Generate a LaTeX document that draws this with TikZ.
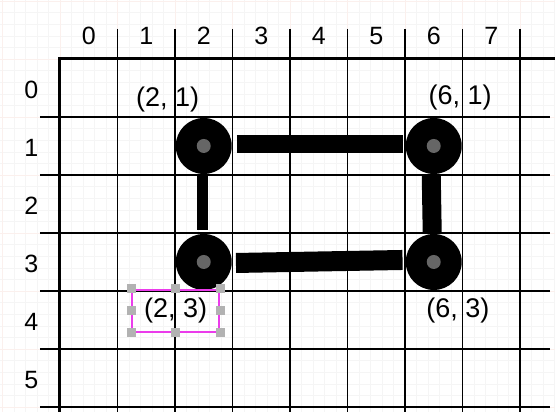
\documentclass[tikz,border=0pt]{standalone}
\usepackage{fontspec}
\setmainfont{Liberation Sans}
\definecolor{selmag}{RGB}{235,60,235}
\definecolor{faint}{RGB}{251,240,237}
\begin{document}
\begin{tikzpicture}[x=57.5pt,y=58pt,
  joint/.style={circle,fill=black,minimum size=56pt,inner sep=0pt,
    path picture={\fill[black!60] (path picture bounding box.center) circle (7pt);}},
  bar/.style={line width=#1},
  coord/.style={font=\fontsize{27}{30}\selectfont,inner sep=0pt},
  idx/.style={font=\fontsize{25}{29}\selectfont},
  handle/.style={fill=black!30,minimum size=9pt,inner sep=0pt}]
  \useasboundingbox (-1.0435,-6.086) rectangle (8.609,1.017);
  % background paper
  \draw[black!4,step=0.2] (-1.0435,-6.086) grid (8.609,1.017);
  \draw[faint,step=1] (-1.0435,-6.086) grid (8.609,1.017);
  % board
  \foreach \c in {1,...,8} \draw[line width=1.4pt] (\c,0.52) -- (\c,-6.086);
  \foreach \r in {1,...,6} \draw[line width=1.4pt] (-0.35,-\r) -- (8.52,-\r);
  \draw[line width=3pt] (0,-6.086) -- (0,0) -- (8.609,0);
  \foreach \c in {0,...,7} \node[idx] at (\c+0.5,0.40) {\c};
  \foreach \r in {0,...,5} \node[idx] at (-0.5,-\r-0.53) {\r};
  % joints and bars
  \node[joint] (p21) at (2.5,-1.5) {};
  \node[joint] (p61) at (6.5,-1.5) {};
  \node[joint] (p23) at (2.5,-3.5) {};
  \node[joint] (p63) at (6.5,-3.5) {};
  \draw[bar=18pt] ([xshift=5pt,yshift=1.5pt]p21.east) -- ([xshift=-3pt,yshift=1.5pt]p61.west);
  \draw[bar=20pt] ([xshift=4pt,yshift=-1pt]p23.east) -- ([xshift=-3pt,yshift=2pt]p63.west);
  \draw[bar=11pt] ([xshift=-1.5pt,yshift=-2pt]p21.south) -- ([xshift=-1.5pt,yshift=4pt]p23.north);
  \draw[bar=19pt] ([xshift=-2.5pt,yshift=-1pt]p61.south) -- ([xshift=-1.5pt]p63.north);
  \node[coord] (l21) at (1.87,-0.70) {(2, 1)};
  \node[coord] (l61) at (6.96,-0.67) {(6, 1)};
  \node[coord] (l63) at (6.92,-4.33) {(6, 3)};
  \node[coord,draw=selmag,line width=2pt,minimum width=87pt,minimum height=42pt] (l23) at (2.01,-4.34) {(2, 3)};
  \foreach \a in {north west,north,north east,east,south east,south,south west,west}
    \node[handle] at (l23.\a) {};
\end{tikzpicture}
\end{document}
